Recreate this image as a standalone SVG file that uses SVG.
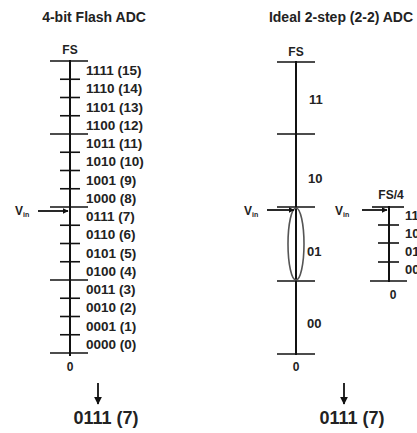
<svg xmlns="http://www.w3.org/2000/svg" width="417" height="433" viewBox="0 0 417 433">
<defs>
<marker id="ah" viewBox="0 0 10 10" refX="9" refY="5" markerWidth="6" markerHeight="6" orient="auto" markerUnits="userSpaceOnUse"><path d="M0,0 L10,5 L0,10 z" fill="#111"/></marker>
<marker id="ahd" viewBox="0 0 10 10" refX="9" refY="5" markerWidth="8" markerHeight="8" orient="auto" markerUnits="userSpaceOnUse"><path d="M0,0 L10,5 L0,10 z" fill="#111"/></marker>
<style>
text{font-family:"Liberation Sans",Arial,sans-serif;font-weight:bold;fill:#222}
.t{font-size:14px}
.lb{font-size:13.5px}
.rl{font-size:13px}
.res{font-size:18px}
.z{font-size:12px}
.ax{stroke:#111;stroke-width:2;fill:none}
.tk{stroke:#111;stroke-width:1.6;fill:none}
.ar{stroke:#111;stroke-width:1.8;fill:none}
</style>
</defs>
<rect width="417" height="433" fill="#fff"/>

<g id="title-flash"><text class="t" x="94" y="22" text-anchor="middle">4-bit Flash ADC</text></g>
<g id="title-2step"><text class="t" x="341" y="22" text-anchor="middle">Ideal 2-step (2-2) ADC</text></g>

<g id="flash-scale">
<line class="ax" x1="70" y1="60" x2="70" y2="356"/>
<line class="tk" x1="50" y1="61" x2="88" y2="61"/>
<line class="tk" x1="60" y1="79.25" x2="80" y2="79.25"/>
<line class="tk" x1="60" y1="97.5" x2="80" y2="97.5"/>
<line class="tk" x1="60" y1="115.75" x2="80" y2="115.75"/>
<line class="tk" x1="50" y1="134" x2="88" y2="134"/>
<line class="tk" x1="60" y1="152.25" x2="80" y2="152.25"/>
<line class="tk" x1="60" y1="170.5" x2="80" y2="170.5"/>
<line class="tk" x1="60" y1="188.75" x2="80" y2="188.75"/>
<line class="tk" x1="50" y1="207" x2="88" y2="207"/>
<line class="tk" x1="60" y1="225.25" x2="80" y2="225.25"/>
<line class="tk" x1="60" y1="243.5" x2="80" y2="243.5"/>
<line class="tk" x1="60" y1="261.75" x2="80" y2="261.75"/>
<line class="tk" x1="50" y1="280" x2="88" y2="280"/>
<line class="tk" x1="60" y1="298.25" x2="80" y2="298.25"/>
<line class="tk" x1="60" y1="316.5" x2="80" y2="316.5"/>
<line class="tk" x1="60" y1="334.75" x2="80" y2="334.75"/>
<line class="tk" x1="50" y1="353" x2="88" y2="353"/>
<text class="z" x="70" y="54" text-anchor="middle">FS</text>
<text class="z" x="70" y="371" text-anchor="middle">0</text>
<text class="lb" x="86" y="75">1111 (15)</text>
<text class="lb" x="86" y="93.25">1110 (14)</text>
<text class="lb" x="86" y="111.5">1101 (13)</text>
<text class="lb" x="86" y="129.75">1100 (12)</text>
<text class="lb" x="86" y="148">1011 (11)</text>
<text class="lb" x="86" y="166.25">1010 (10)</text>
<text class="lb" x="86" y="184.5">1001 (9)</text>
<text class="lb" x="86" y="202.75">1000 (8)</text>
<text class="lb" x="86" y="221">0111 (7)</text>
<text class="lb" x="86" y="239.25">0110 (6)</text>
<text class="lb" x="86" y="257.5">0101 (5)</text>
<text class="lb" x="86" y="275.75">0100 (4)</text>
<text class="lb" x="86" y="294">0011 (3)</text>
<text class="lb" x="86" y="312.25">0010 (2)</text>
<text class="lb" x="86" y="330.5">0001 (1)</text>
<text class="lb" x="86" y="348.75">0000 (0)</text>
</g>

<g id="vin-flash"><text x="15" y="215" style="font-size:12px">V<tspan style="font-size:7px" dy="2">in</tspan></text></g>

<g id="coarse-scale">
<line class="ax" x1="296" y1="61" x2="296" y2="355"/>
<line class="tk" x1="277" y1="62" x2="315" y2="62"/>
<line class="tk" x1="277" y1="134" x2="315" y2="134"/>
<line class="tk" x1="277" y1="207" x2="315" y2="207"/>
<line class="tk" x1="277" y1="281" x2="315" y2="281"/>
<line class="tk" x1="277" y1="354" x2="315" y2="354"/>
<ellipse cx="296" cy="244" rx="8" ry="36" fill="none" stroke="#555" stroke-width="1.6"/>
<text class="z" x="296" y="56" text-anchor="middle">FS</text>
<text class="z" x="296" y="371" text-anchor="middle">0</text>
<text class="rl" x="309" y="104">11</text>
<text class="rl" x="308" y="183">10</text>
<text class="rl" x="307" y="256">01</text>
<text class="rl" x="307" y="328">00</text>
</g>
<g id="vin-coarse"><text x="244" y="215" style="font-size:12px">V<tspan style="font-size:7px" dy="2">in</tspan></text></g>

<g id="fine-scale">
<line class="ax" x1="389" y1="206" x2="389" y2="282"/>
<line class="tk" x1="372" y1="207" x2="404" y2="207"/>
<line class="tk" x1="378" y1="225" x2="399" y2="225"/>
<line class="tk" x1="378" y1="243" x2="399" y2="243"/>
<line class="tk" x1="378" y1="262" x2="399" y2="262"/>
<line class="tk" x1="370" y1="281" x2="407" y2="281"/>
<text class="z" x="391" y="199" text-anchor="middle">FS/4</text>
<text class="z" x="393" y="299" text-anchor="middle">0</text>
<text class="rl" x="405" y="220">11</text>
<text class="rl" x="405" y="238">10</text>
<text class="rl" x="405" y="256">01</text>
<text class="rl" x="405" y="274">00</text>
</g>
<g id="vin-fine"><text x="335" y="215" style="font-size:12px">V<tspan style="font-size:7px" dy="2">in</tspan></text></g>

<g id="result-flash"><text class="res" x="106" y="424" text-anchor="middle">0111 (7)</text></g>
<g id="result-2step"><text class="res" x="352" y="424" text-anchor="middle">0111 (7)</text></g>

<g id="connectors">
<line class="ar" x1="38" y1="211" x2="68" y2="211" marker-end="url(#ah)"/>
<line class="ar" x1="267" y1="210" x2="294" y2="210" marker-end="url(#ah)"/>
<line class="ar" x1="362" y1="210" x2="387" y2="210" marker-end="url(#ah)"/>
<line class="ar" x1="98" y1="383" x2="98" y2="404" marker-end="url(#ahd)"/>
<line class="ar" x1="344" y1="383" x2="344" y2="404" marker-end="url(#ahd)"/>
</g>
</svg>
